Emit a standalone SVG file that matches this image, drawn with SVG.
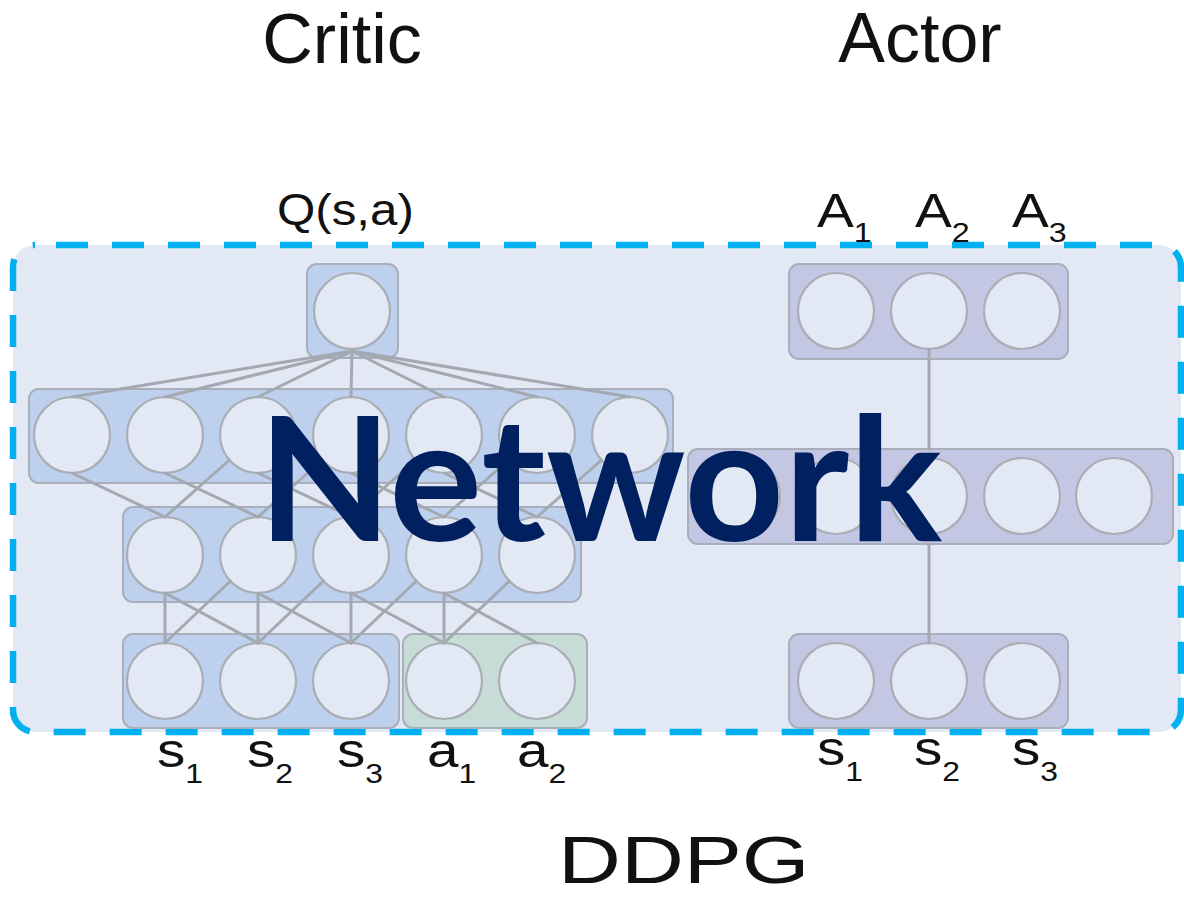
<svg xmlns="http://www.w3.org/2000/svg" width="1184" height="902" viewBox="0 0 1184 902">
  <style>
    .title { font-family: "Liberation Sans", Arial, sans-serif; font-size: 70px; fill: #111; }
    .lbl { font-family: "Liberation Sans", Arial, sans-serif; fill: #111; }
    .box { stroke: #A8AFBA; stroke-width: 2; }
    .blue { fill: #BDD0EE; }
    .green { fill: #C7DCD6; }
    .violet { fill: #C4C7E3; }
    .unit { fill: #E3E9F4; stroke: #A9ADB4; stroke-width: 2.2; }
    .edge { stroke: #A4A9B1; stroke-width: 3; fill: none; stroke-linecap: round; }
    .frame { fill: #E2E8F4; stroke: #00B0F0; stroke-width: 6.5; stroke-dasharray: 32 24; stroke-dashoffset: 35; }
    .big { font-family: Lato, "Open Sans", "Liberation Sans", sans-serif; font-weight: 700; font-size: 172px; fill: #002060; }
  </style>
  <rect width="1184" height="902" fill="#FFFFFF"/>

  <!-- titles -->
  <text class="title" x="342" y="63" text-anchor="middle">Critic</text>
  <text class="title" x="920" y="62" text-anchor="middle">Actor</text>

  <!-- dashed frame around both networks -->
  <rect id="frame" class="frame" x="13" y="245" width="1168" height="487" rx="22" ry="22"/>

  <!-- Critic layers -->
  <g id="critic-out">
    <rect class="box blue" x="307" y="264" width="91" height="94" rx="10"/>
    <circle class="unit" cx="352" cy="311" r="38"/>
  </g>
  <g id="critic-h1">
    <rect class="box blue" x="29" y="389" width="644" height="94" rx="10"/>
    <circle class="unit" cx="72" cy="435" r="38"/>
    <circle class="unit" cx="165" cy="435" r="38"/>
    <circle class="unit" cx="258" cy="435" r="38"/>
    <circle class="unit" cx="351" cy="435" r="38"/>
    <circle class="unit" cx="444" cy="435" r="38"/>
    <circle class="unit" cx="537" cy="435" r="38"/>
    <circle class="unit" cx="630" cy="435" r="38"/>
  </g>
  <g id="critic-h2">
    <rect class="box blue" x="123" y="507" width="458" height="95" rx="10"/>
    <circle class="unit" cx="165" cy="555" r="38"/>
    <circle class="unit" cx="258" cy="555" r="38"/>
    <circle class="unit" cx="351" cy="555" r="38"/>
    <circle class="unit" cx="444" cy="555" r="38"/>
    <circle class="unit" cx="537" cy="555" r="38"/>
  </g>
  <g id="critic-state">
    <rect class="box blue" x="123" y="634" width="276" height="94" rx="10"/>
    <circle class="unit" cx="165" cy="681" r="38"/>
    <circle class="unit" cx="258" cy="681" r="38"/>
    <circle class="unit" cx="351" cy="681" r="38"/>
  </g>
  <g id="critic-action">
    <rect class="box green" x="403" y="634" width="184" height="94" rx="10"/>
    <circle class="unit" cx="444" cy="681" r="38"/>
    <circle class="unit" cx="537" cy="681" r="38"/>
  </g>

  <!-- Actor layers -->
  <g id="actor-out">
    <rect class="box violet" x="789" y="264" width="279" height="95" rx="10"/>
    <circle class="unit" cx="836" cy="311" r="38"/>
    <circle class="unit" cx="929" cy="311" r="38"/>
    <circle class="unit" cx="1022" cy="311" r="38"/>
  </g>
  <g id="actor-hidden">
    <rect class="box violet" x="688" y="449" width="485" height="95" rx="10"/>
    <circle class="unit" cx="742" cy="496" r="38"/>
    <circle class="unit" cx="836" cy="496" r="38"/>
    <circle class="unit" cx="929" cy="496" r="38"/>
    <circle class="unit" cx="1022" cy="496" r="38"/>
    <circle class="unit" cx="1114" cy="496" r="38"/>
  </g>
  <g id="actor-state">
    <rect class="box violet" x="789" y="634" width="279" height="94" rx="10"/>
    <circle class="unit" cx="836" cy="681" r="38"/>
    <circle class="unit" cx="929" cy="681" r="38"/>
    <circle class="unit" cx="1022" cy="681" r="38"/>
  </g>

  <!-- connections, trimmed to the unit outlines -->
  <g id="connectors" class="edge">
    <!-- output unit to first hidden layer -->
    <path d="M352 351 L72 397 M352 351 L165 397 M352 351 L258 397 M352 351 L351 397 M352 351 L444 397 M352 351 L537 397 M352 351 L630 397"/>
    <!-- first hidden layer to second hidden layer -->
    <path d="M72 473 L165 517 M165 473 L258 517 M258 473 L351 517 M351 473 L444 517 M444 473 L537 517"/>
    <path d="M229.5 460 L165 517 M322.5 460 L258 517 M415.5 460 L351 517 M508.5 460 L444 517 M601.5 460 L537 517"/>
    <!-- second hidden layer to inputs -->
    <path d="M165 593 L165 643 M258 593 L258 643 M351 593 L351 643 M444 593 L444 643"/>
    <path d="M165 593 L258 643 M258 593 L351 643 M351 593 L444 643 M444 593 L537 643"/>
    <path d="M230.4 581 L165 643 M323.4 581 L258 643 M416.4 581 L351 643 M509.4 581 L444 643"/>
    <!-- actor stack -->
    <path d="M929 349 L929 449 M929 544 L929 643"/>
  </g>

  <!-- unit labels -->
  <g id="labels" class="lbl">
    <text font-size="44" transform="translate(277 225) scale(1.12 1)">Q(s,a)</text>
    <text font-size="48" transform="translate(817 227) scale(1.15 1)">A<tspan font-size="28" dy="15">1</tspan></text>
    <text font-size="48" transform="translate(915 227) scale(1.15 1)">A<tspan font-size="28" dy="15">2</tspan></text>
    <text font-size="48" transform="translate(1012 227) scale(1.15 1)">A<tspan font-size="28" dy="15">3</tspan></text>
    <text font-size="48" transform="translate(157 767) scale(1.18 1)">s<tspan font-size="27" dy="16">1</tspan></text>
    <text font-size="48" transform="translate(247 767) scale(1.18 1)">s<tspan font-size="27" dy="16">2</tspan></text>
    <text font-size="48" transform="translate(337 767) scale(1.18 1)">s<tspan font-size="27" dy="16">3</tspan></text>
    <text font-size="48" transform="translate(427 767) scale(1.18 1)">a<tspan font-size="27" dy="16">1</tspan></text>
    <text font-size="48" transform="translate(517 767) scale(1.18 1)">a<tspan font-size="27" dy="16">2</tspan></text>
    <text font-size="48" transform="translate(817 765) scale(1.18 1)">s<tspan font-size="27" dy="16">1</tspan></text>
    <text font-size="48" transform="translate(914 765) scale(1.18 1)">s<tspan font-size="27" dy="16">2</tspan></text>
    <text font-size="48" transform="translate(1012 765) scale(1.18 1)">s<tspan font-size="27" dy="16">3</tspan></text>
  </g>

  <!-- overlay caption -->
  <text class="big" x="258" y="541" textLength="684" lengthAdjust="spacingAndGlyphs">Network</text>

  <!-- bottom caption -->
  <text class="lbl" font-size="67" transform="translate(558 883) scale(1.3 1)">DDPG</text>
</svg>
